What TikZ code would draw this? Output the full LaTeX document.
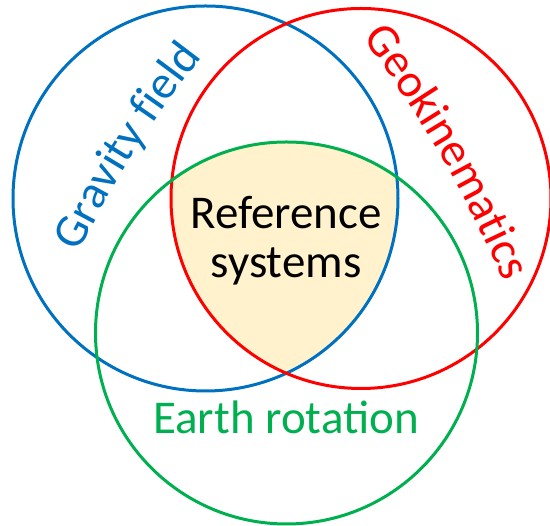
\documentclass[tikz,border=0pt]{standalone}
\usepackage{fontspec}
\setmainfont{Carlito}
\usetikzlibrary{decorations.text}
\definecolor{gravblue}{HTML}{0070C0}
\definecolor{kinred}{HTML}{FF0000}
\definecolor{rotgreen}{HTML}{00B050}
\definecolor{refgold}{HTML}{FFF2CC}
\newcommand{\bigfont}{\fontsize{47}{49}\selectfont}

\begin{document}
\begin{tikzpicture}[
  x=1pt, y=1pt,
  ring/.style={line width=3pt},
  label/.style={font=\bigfont, inner sep=0pt},
  arclabel/.style={decorate, decoration={text along path, text align=center, text={#1}}}
]
\useasboundingbox (0,0) rectangle (550,526);
\coordinate (grav) at (205.5,327.5);
\coordinate (kin) at (361,327.5);
\coordinate (rot) at (286.5,193);
\begin{scope}
  \clip (grav) circle (192.5);
  \clip (kin) circle (190);
  \fill[refgold] (rot) circle (191);
\end{scope}
\draw[ring, gravblue] (grav) circle (192.5);
\draw[ring, kinred] (kin) circle (190);
\draw[ring, rotgreen] (rot) circle (191);
\node[label, align=center, anchor=base] (refsys) at (286,248) {Reference\\systems};
\node[label, text=rotgreen, anchor=base] (earthrot) at (286,92) {Earth rotation};
\coordinate (gravA) at (67.7,251.7);
\coordinate (gravB) at (216.9,488.5);
\coordinate (kinA) at (357.6,495.4);
\coordinate (kinB) at (508.2,235.8);
\path[arclabel={|\bigfont\color{gravblue}|Gravity field}] (gravA) to[bend left=6] (gravB);
\path[arclabel={|\bigfont\color{kinred}|Geokinematics}] (kinA) to[bend left=6] (kinB);
\end{tikzpicture}
\end{document}
